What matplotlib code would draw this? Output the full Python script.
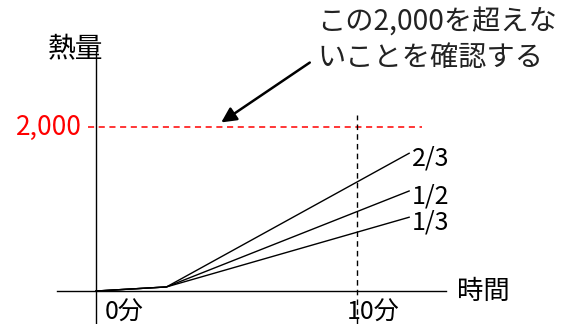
import matplotlib.pyplot as plt

plt.rcParams['font.family'] = ['Noto Sans CJK JP', 'DejaVu Sans']

# データ（分, 熱量）
times = [0, 2.7, 12]
ratio_labels = ['2/3', '1/2', '1/3']
heat_2_3 = [0, 50, 1680]
heat_1_2 = [0, 50, 1220]
heat_1_3 = [0, 50, 900]
limit = 2000
check_time = 10
tick_times = [0, 10]
tick_labels = ['0分', '10分']

fig = plt.figure(figsize=(5.61, 3.24), dpi=100)
ax = fig.add_axes([0, 0, 1, 1])
ax.set_xlim(-3.68, 17.82)
ax.set_ylim(-402, 3549)

# 軸
for side in ['top', 'right']:
    ax.spines[side].set_visible(False)
ax.spines['left'].set_position(('data', 0))
ax.spines['bottom'].set_position(('data', 0))
ax.spines['left'].set_bounds(-402, 2915)
ax.spines['bottom'].set_bounds(-1.49, 13.41)
for side in ['left', 'bottom']:
    ax.spines[side].set_linewidth(1.0)
ax.set_xticks([])
ax.set_yticks([])

# 上限ライン と 10分ライン
ax.hlines(limit, -0.31, 12.49, colors='#ff0000', linestyles=(0, (4, 3)), linewidth=1.1)
ax.vlines(check_time, -402, 2146, colors='black', linestyles=(0, (4, 3)), linewidth=1.0)

for heat, lab in zip([heat_2_3, heat_1_2, heat_1_3], ratio_labels):
    ax.plot(times, heat, color='black', linewidth=1.0)
    ax.annotate(lab, (times[-1], heat[-1]), xytext=(2, -4), textcoords='offset points',
                fontsize=18, ha='left', va='center')

# ラベル
ax.annotate('2,000', (0, limit), xytext=(-10, 0), textcoords='offset points',
            color='#ff0000', fontsize=19, ha='right', va='center')
ax.annotate('熱量', (0, 2915), xytext=(-15, 2), textcoords='offset points',
            fontsize=20, ha='center', va='center')
ax.annotate('時間', (13.41, 0), xytext=(8, 0), textcoords='offset points',
            fontsize=19, ha='left', va='center')
for t, lab in zip(tick_times, tick_labels):
    ax.annotate(lab, (t, 0), xytext=(-7 if t else 6, -6), textcoords='offset points',
                fontsize=18, ha='left', va='top')

# 矢印と注釈
ax.annotate('', xy=(4.71, 2037), xytext=(8.28, 2805),
            arrowprops=dict(arrowstyle='-|>,head_length=0.9,head_width=0.45',
                            color='black', lw=1.8))
ax.text(0.565, 0.975, 'この2,000を超えな\nいことを確認する', transform=ax.transAxes,
        fontsize=20.3, ha='left', va='top', linespacing=1.2, color='#222222')

fig.savefig('out.png', dpi=100)
